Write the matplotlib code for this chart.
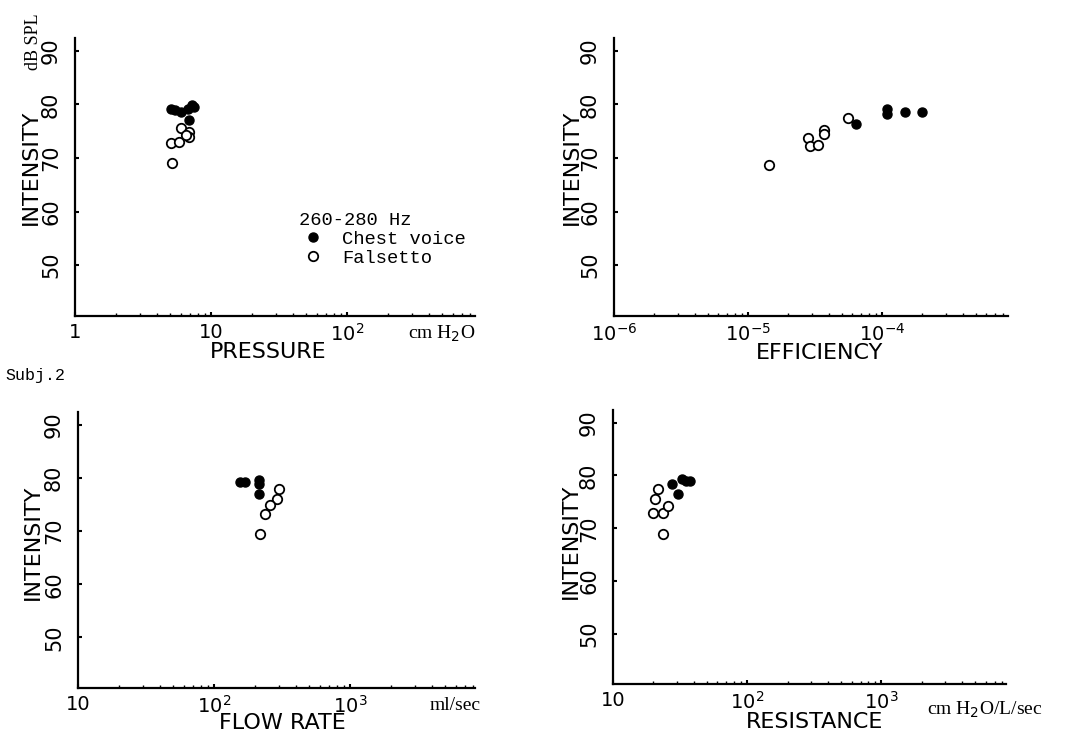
import matplotlib.pyplot as plt
from matplotlib.ticker import FixedLocator, LogLocator, NullFormatter

W, H = 1074, 739

# Subj.2, 260-280 Hz, intensity in dB SPL
pressure_chest = [5.1, 5.4, 6.0, 6.8, 7.2, 7.5, 6.9]
pressure_chest_db = [79.2, 79.0, 78.6, 79.2, 79.9, 79.5, 77.1]
pressure_falsetto = [5.2, 5.1, 5.8, 6.0, 6.9, 6.9, 6.5]
pressure_falsetto_db = [69.1, 72.8, 73.0, 75.6, 74.9, 73.9, 74.2]

efficiency_chest = [6.4e-5, 1.09e-4, 1.09e-4, 1.48e-4, 2.0e-4]
efficiency_chest_db = [76.4, 79.2, 78.2, 78.5, 78.5]
efficiency_falsetto = [1.44e-5, 2.8e-5, 2.9e-5, 3.3e-5, 3.7e-5, 3.7e-5, 5.6e-5]
efficiency_falsetto_db = [68.7, 73.8, 72.2, 72.5, 75.2, 74.4, 77.4]

flow_chest = [155, 168, 214, 214, 214]
flow_chest_db = [79.3, 79.3, 79.7, 78.8, 76.9]
flow_falsetto = [300, 290, 258, 237, 219]
flow_falsetto_db = [78.0, 76.0, 75.0, 73.2, 69.4]

resistance_chest = [27.6, 30.5, 32.7, 35.0, 37.6]
resistance_chest_db = [78.3, 76.4, 79.4, 79.0, 78.9]
resistance_falsetto = [23.6, 19.9, 23.6, 20.6, 25.7, 21.7]
resistance_falsetto_db = [68.9, 72.8, 72.8, 75.5, 74.2, 77.4]

intensity_ticks = [50, 60, 70, 80, 90]

fig = plt.figure(figsize=(W / 100, H / 100), dpi=100)
mono = 'Liberation Mono'
serif = 'Liberation Serif'


def ftext(x, y, s, **kw):
    # position given in figure pixels from the top left
    fig.text(x / W, 1 - y / H, s, ha=kw.pop('ha', 'center'), va='center', **kw)


def make_panel(box, xlim, xticks, xticklabels, cx, cy, fx, fy):
    l, t, r, b = box
    ax = fig.add_axes([l / W, 1 - b / H, (r - l) / W, (b - t) / H])
    h1, = ax.plot(cx, cy, 'o', color='black', ms=6.5, ls='none')
    h2, = ax.plot(fx, fy, 'o', mfc='white', mec='black', mew=1.3, ms=6.8, ls='none')
    ax.set_xscale('log')
    ax.set_xlim(xlim)
    ax.set_ylim(40.5, 92.4)
    ax.xaxis.set_major_locator(FixedLocator(xticks))
    ax.set_xticklabels(xticklabels)
    ax.xaxis.set_minor_locator(LogLocator(subs=range(2, 10), numticks=20))
    ax.xaxis.set_minor_formatter(NullFormatter())
    ax.set_yticks(intensity_ticks)
    for s in ['top', 'right']:
        ax.spines[s].set_visible(False)
    for s in ['left', 'bottom']:
        ax.spines[s].set_linewidth(1.6)
    ax.tick_params(axis='both', which='major', direction='in', length=3, width=1.5,
                   labelsize=14)
    ax.tick_params(axis='x', which='minor', direction='in', length=2, width=1)
    ax.tick_params(axis='x', pad=5)
    ax.tick_params(axis='y', pad=10)
    plt.setp(ax.get_yticklabels(), rotation=90, va='center', ha='right', fontsize=15)
    return ax, h1, h2


ax1, chest, falsetto = make_panel((75, 38, 475, 316), (1, 870), [1, 10, 100],
                                  ['1', '10', '$10^2$'],
                                  pressure_chest, pressure_chest_db,
                                  pressure_falsetto, pressure_falsetto_db)
make_panel((614, 38, 1008, 316), (1e-6, 8.7e-4), [1e-6, 1e-5, 1e-4],
           ['$10^{-6}$', '$10^{-5}$', '$10^{-4}$'],
           efficiency_chest, efficiency_chest_db,
           efficiency_falsetto, efficiency_falsetto_db)
make_panel((78, 412, 475, 688), (10, 8300), [10, 100, 1000],
           ['10', '$10^2$', '$10^3$'],
           flow_chest, flow_chest_db, flow_falsetto, flow_falsetto_db)
make_panel((613, 410, 1006, 684), (10, 8500), [10, 100, 1000],
           ['10', '$10^2$', '$10^3$'],
           resistance_chest, resistance_chest_db,
           resistance_falsetto, resistance_falsetto_db)

leg = ax1.legend([chest, falsetto], ['Chest voice', 'Falsetto'], title='260-280 Hz',
                 loc='upper left', bbox_to_anchor=(0.56, 0.375), frameon=False,
                 prop={'family': mono, 'size': 13.5},
                 title_fontproperties={'family': mono, 'size': 13.5},
                 alignment='left', handlelength=1.5, handletextpad=0.8,
                 borderpad=0, borderaxespad=0, labelspacing=0.1)

# axis titles
for x, y in [(31, 167), (572, 167), (33, 542), (571, 541)]:
    ftext(x, y, 'INTENSITY', rotation=90, fontsize=16)
ftext(34, 42, 'dB SPL', rotation=90, fontsize=13, family=serif)
ftext(268, 352, 'PRESSURE', fontsize=16)
ftext(820, 353, 'EFFICIENCY', fontsize=16)
ftext(282, 723, 'FLOW RATE', fontsize=16)
ftext(815, 722, 'RESISTANCE', fontsize=16)

# units
ftext(442, 334, 'cm H$_2$O', fontsize=14, family=serif)
ftext(455, 705, 'ml/sec', fontsize=14, family=serif)
ftext(985, 710, 'cm H$_2$O/L/sec', fontsize=14, family=serif)
ftext(5, 375, 'Subj.2', fontsize=12, family=mono, ha='left')

plt.savefig('out.png', dpi=100)
